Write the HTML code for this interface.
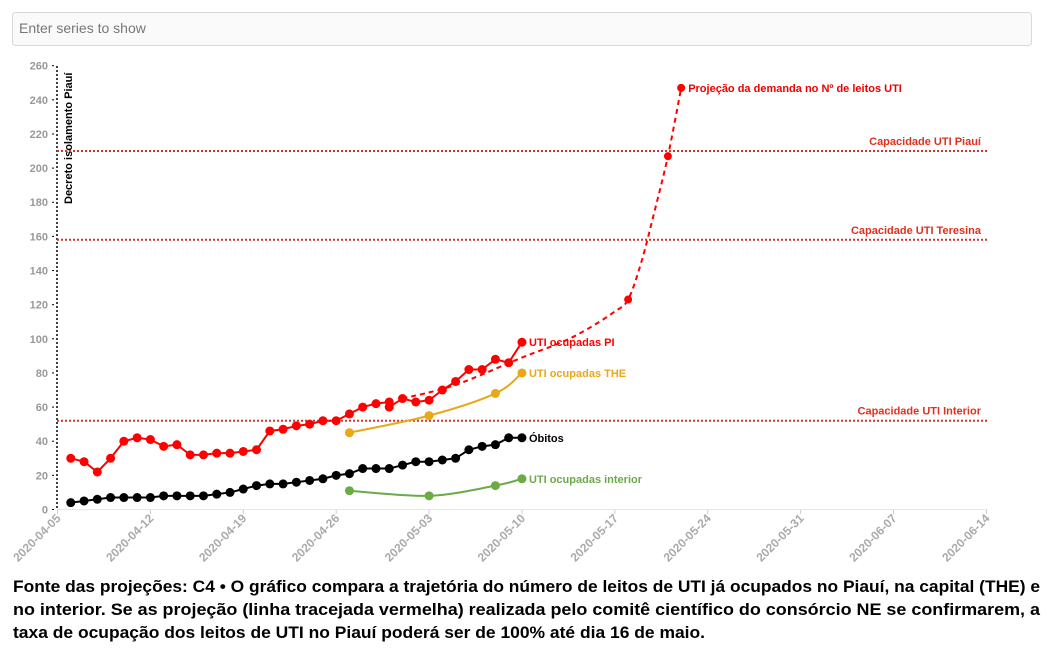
<!DOCTYPE html>
<html><head><meta charset="utf-8"><style>
html,body{margin:0;padding:0;background:#fff;width:1056px;height:650px;overflow:hidden}
svg{display:block;font-family:"Liberation Sans",sans-serif}
</style></head><body>
<svg id="s" width="1056" height="650" viewBox="0 0 1056 650" xmlns="http://www.w3.org/2000/svg">
<rect x="12.5" y="12.5" width="1019" height="33" rx="3" fill="#fafafa" stroke="#d8d8d8"/>
<text x="19" y="33" font-size="14" fill="#777">Enter series to show</text>
<g id="g"></g>
<g font-weight="bold" font-size="17" fill="#000">
<text x="13" y="592" textLength="1027" lengthAdjust="spacingAndGlyphs">Fonte das projeções: C4 • O gráfico compara a trajetória do número de leitos de UTI já ocupados no Piauí, na capital (THE) e</text>
<text x="13" y="615" textLength="1027" lengthAdjust="spacingAndGlyphs">no interior. Se as projeção (linha tracejada vermelha) realizada pelo comitê científico do consórcio NE se confirmarem, a</text>
<text x="13" y="638" textLength="692" lengthAdjust="spacingAndGlyphs">taxa de ocupação dos leitos de UTI no Piauí poderá ser de 100% até dia 16 de maio.</text>
</g>
</svg>
<script>
var X=function(d){return 57.5+d*13.27},Y=function(v){return 509.5-v*1.707};
var h='';
h+='<line x1="57" y1="509.5" x2="988" y2="509.5" stroke="#e6e6e6"/>';
for(var v=0;v<=260;v+=20){var y=Y(v);h+='<line x1="52" x2="56" y1="'+y+'" y2="'+y+'" stroke="#000" stroke-dasharray="2,2"/><text x="48" y="'+(y+4)+'" text-anchor="end" font-size="11" font-weight="bold" fill="#999">'+v+'</text>';}
var labs=['2020-04-05','2020-04-12','2020-04-19','2020-04-26','2020-05-03','2020-05-10','2020-05-17','2020-05-24','2020-05-31','2020-06-07','2020-06-14'];
for(var i=0;i<11;i++){var x=X(i*7);h+='<line x1="'+x+'" x2="'+x+'" y1="510" y2="514" stroke="#ccc"/><text transform="translate('+(x+4)+',519) rotate(-45)" text-anchor="end" font-size="12" font-weight="bold" fill="#aaa">'+labs[i]+'</text>';}
h+='<line x1="57" y1="66" x2="57" y2="509" stroke="#000" stroke-width="1.5" stroke-dasharray="2,2"/>';
h+='<text transform="translate(72,204) rotate(-90)" font-size="11" font-weight="bold" fill="#000">Decreto isolamento Piauí</text>';
var caps=[[210,'Capacidade UTI Piauí'],[158,'Capacidade UTI Teresina'],[52,'Capacidade UTI Interior']];
caps.forEach(function(c){var y=Y(c[0]);h+='<line x1="57" x2="988" y1="'+y+'" y2="'+y+'" stroke="#d0342c" stroke-width="2" stroke-dasharray="2,2"/><text x="981" y="'+(y-6)+'" text-anchor="end" font-size="11" font-weight="bold" fill="#e0301e">'+c[1]+'</text>';});
function smooth(p){var s='M'+p[0][0]+','+p[0][1];for(var i=0;i<p.length-1;i++){var p0=p[i-1]||p[i],p1=p[i],p2=p[i+1],p3=p[i+2]||p2;s+=' C'+(p1[0]+(p2[0]-p0[0])/6)+','+(p1[1]+(p2[1]-p0[1])/6)+' '+(p2[0]-(p3[0]-p1[0])/6)+','+(p2[1]-(p3[1]-p1[1])/6)+' '+p2[0]+','+p2[1];}return s;}
var pr=[[26,65],[30,73],[35,89],[38,98],[40,106],[42,116],[43,123],[44,145],[45,175],[46,207],[47,247]].map(function(a){return[X(a[0]),Y(a[1])]});
h+='<path d="'+smooth(pr)+'" fill="none" stroke="#f00" stroke-width="2" stroke-dasharray="5,4"/>';
[[43,123],[46,207],[47,247]].forEach(function(a){h+='<circle cx="'+X(a[0])+'" cy="'+Y(a[1])+'" r="4" fill="#f00"/>';});
h+='<text x="'+(X(47)+7)+'" y="'+(Y(247)+4)+'" font-size="11" font-weight="bold" fill="#e00">Projeção da demanda no Nº de leitos UTI</text>';
function series(pts,col,sm,lab,w){var p=pts.map(function(a){return[X(a[0]),Y(a[1])]});var d=sm?smooth(p):'M'+p.map(function(q){return q.join(',')}).join(' L');h+='<path d="'+d+'" fill="none" stroke="'+col+'" stroke-width="'+w+'"/>';p.forEach(function(q){h+='<circle cx="'+q[0]+'" cy="'+q[1]+'" r="4.5" fill="'+col+'"/>';});var l=p[p.length-1];h+='<text x="'+(l[0]+7)+'" y="'+(l[1]+4)+'" font-size="11" font-weight="bold" fill="'+col+'">'+lab+'</text>';}
var red=[30,28,22,30,40,42,41,37,38,32,32,33,33,34,35,46,47,49,50,52,52,56,60,62,63,65,63,64,70,75,82,82,88,86,98];
var rp=[];red.forEach(function(v,i){rp.push([i+1,v]);if(i==24)rp.push([25,60]);});
var blk=[4,5,6,7,7,7,7,8,8,8,8,9,10,12,14,15,15,16,17,18,20,21,24,24,24,26,28,28,29,30,35,37,38,42,42];
series(blk.map(function(v,i){return[i+1,v]}),'#000',false,'Óbitos',2);
series([[22,45],[28,55],[33,68],[35,80]],'#e8a817',true,'UTI ocupadas THE',2);
series([[22,11],[28,8],[33,14],[35,18]],'#6aab46',true,'UTI ocupadas interior',2);
series(rp,'#f00',false,'UTI ocupadas PI',2);
document.getElementById('g').innerHTML=h;
</script>
</body></html>
